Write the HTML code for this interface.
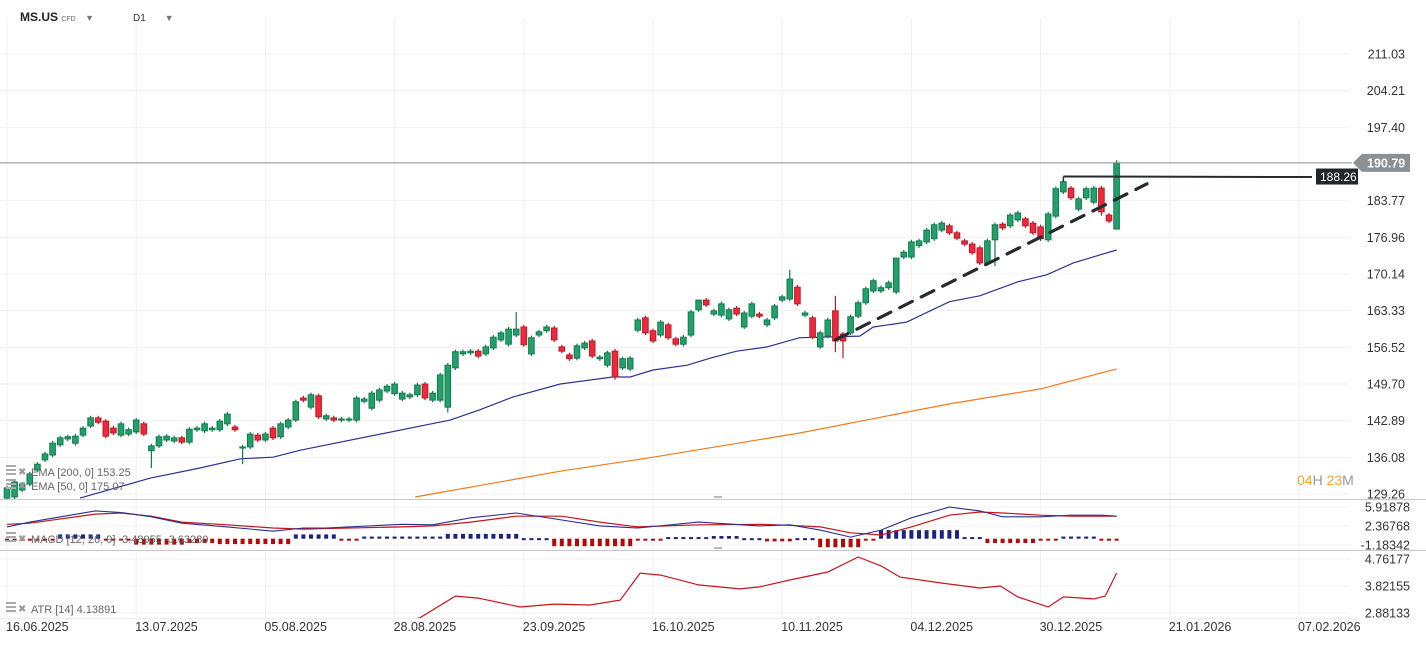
<!DOCTYPE html>
<html><head><meta charset="utf-8"><style>
html,body{margin:0;padding:0;background:#fff;}
body{width:1426px;height:650px;overflow:hidden;font-family:"Liberation Sans",sans-serif;}
svg text{font-family:"Liberation Sans",sans-serif;}
</style></head><body>
<svg id="chart" width="1426" height="650" xmlns="http://www.w3.org/2000/svg"></svg>
<script>
// ===== DATA =====
const opens  = [128.5,128.7,130.0,131.1,133.7,135.6,136.5,138.4,139.5,138.7,140.2,141.9,143.4,142.8,141.5,140.2,140.4,140.8,142.3,137.3,138.2,139.3,139.1,139.7,138.9,141.2,141.0,141.2,141.2,142.3,141.7,137.8,138.0,140.2,139.3,141.5,139.9,141.7,143.0,147.1,145.4,147.5,143.2,143.4,143.0,143.0,143.0,146.5,145.2,146.7,148.4,147.9,146.9,147.3,147.7,149.7,146.7,146.7,145.4,152.7,155.3,155.5,155.8,155.3,156.4,157.9,157.1,158.8,160.3,155.3,158.8,159.6,160.1,156.6,155.1,154.5,156.4,157.7,154.4,153.2,155.8,152.7,152.5,159.7,162.0,159.6,158.8,160.7,158.1,157.1,158.8,163.5,165.3,162.7,162.5,161.8,163.8,160.3,162.3,162.7,160.7,162.0,165.3,165.5,167.7,162.5,162.0,156.6,158.6,163.3,159.0,159.2,162.3,164.8,167.0,167.0,167.6,166.8,173.3,173.3,175.4,176.1,176.7,178.3,179.1,177.8,176.3,175.7,175.0,172.2,176.5,179.4,179.1,180.2,180.4,179.6,178.9,176.5,180.9,185.4,186.1,182.2,184.3,183.5,186.1,181.1,178.5];
const closes = [130.4,131.5,131.1,133.0,134.8,136.7,138.7,139.7,139.9,140.0,141.5,143.4,142.6,140.0,140.6,142.3,141.2,143.0,140.4,138.2,139.9,140.0,139.7,138.9,141.3,141.5,142.3,141.5,142.8,144.1,141.2,138.0,140.4,139.3,140.4,139.7,142.3,143.0,146.4,146.7,147.7,143.6,143.8,143.0,143.2,143.2,147.1,146.9,148.0,148.6,149.3,149.7,148.0,147.7,149.5,147.1,148.0,151.4,153.2,155.7,155.7,155.8,154.9,156.6,158.4,159.2,159.9,159.9,157.0,158.3,159.4,160.3,157.9,155.8,154.4,156.8,157.3,154.9,154.7,155.5,151.0,154.4,154.5,161.6,159.2,157.7,161.2,158.3,157.1,158.4,163.1,165.3,164.4,163.3,164.6,163.5,162.7,162.9,164.6,162.3,161.6,164.2,165.9,169.2,164.6,162.9,158.4,159.2,161.6,157.7,157.7,162.2,164.8,167.4,168.9,167.6,168.5,173.1,174.2,176.1,176.3,178.3,179.3,179.6,177.8,176.8,175.7,174.1,172.2,176.3,179.3,178.7,181.1,181.5,179.1,177.8,176.7,181.3,186.0,187.3,184.3,184.1,186.0,186.1,181.7,180.0,190.8];
const wickHighIdx = [67,103,109,146,91,117];
const wickHighVal = [163.1,170.9,166.1,191.3,165.0,169.8];
const wickLowIdx  = [19,31,58,109,110,80,146,144,130];
const wickLowVal  = [134.1,134.8,144.4,155.6,154.5,150.5,178.4,181.0,171.6];
const ema50Bars = [9.6,18.8,25.4,30.7,35,38.6,58.3,62.2,66.6,72.8,79.7,82,85,89.5,92.5,96,100,104.3,112.2,114,118.4,124,128,133,136.8,140.3,143.8,146];
const ema50Vals = [128.5,132.2,134.1,135.8,136.1,137.4,143.0,144.9,147.3,149.7,151.0,151.0,152.3,153.2,154.5,155.8,156.6,158.3,158.6,160.3,161.2,165.0,166.1,168.7,170.0,172.2,173.7,174.6];
const ema200Bars = [53.7,72.8,84.6,104.3,124,136,146];
const ema200Vals = [128.7,133.5,136.0,140.6,146.0,148.8,152.5];
const macdBars = [0,3,11.6,15,19,23,29,35,39,42,52,56,61,67,73,78,83,91,99,103,107,111,115,119,124,128,131,136,140,144,146];
const macdVals = [2.2,3.1,5.2,4.9,4.1,2.9,2.2,1.4,2.0,2.0,2.7,2.6,3.9,4.8,3.5,2.4,2.0,3.1,2.4,2.6,1.6,0.3,1.6,3.9,5.9,5.2,4.1,4.1,4.4,4.4,4.2];
const signalVals = [2.7,2.9,4.6,4.8,4.2,3.1,2.6,2.0,1.8,1.9,2.2,2.4,3.1,4.2,4.2,3.1,2.2,2.6,2.7,2.5,2.2,1.1,0.7,2.2,4.4,5.0,4.8,4.4,4.2,4.2,4.2];
const histVals = [-0.3,-0.3,-0.3,-0.3,-0.1,-0.1,-0.1,0.8,0.8,0.8,0.8,0.8,0.8,-0.2,-0.2,-0.2,-0.2,-1.1,-1.1,-1.1,-1.1,-1.1,-1.1,-1.1,-0.8,-0.8,-0.8,-0.8,-1.0,-1.0,-1.0,-1.0,-1.0,-1.0,-1.0,-1.0,-1.0,-1.0,0.8,0.8,0.8,0.8,0.8,0.8,-0.3,-0.3,-0.3,0.4,0.4,0.4,0.4,0.4,0.4,0.4,0.4,0.4,0.4,0.4,0.9,0.9,0.9,0.9,0.9,0.9,0.9,0.9,0.9,0.9,0.1,0.1,0.1,0.1,-1.4,-1.4,-1.4,-1.4,-1.4,-1.4,-1.4,-1.4,-1.4,-1.4,-1.4,-0.1,-0.1,-0.1,-0.1,0.3,0.3,0.3,0.3,0.3,0.3,0.5,0.5,0.5,0.5,0.1,0.1,0.1,-0.5,-0.5,-0.5,-0.5,0.1,0.1,0.1,-1.6,-1.6,-1.6,-1.6,-1.6,-1.6,-0.2,-0.2,1.6,1.6,1.6,1.6,1.6,1.6,1.6,1.6,1.6,1.6,1.6,0.3,0.3,0.3,-0.8,-0.8,-0.8,-0.8,-0.8,-0.8,-0.8,-0.3,-0.3,-0.3,0.4,0.4,0.4,0.4,0.4,-0.3,-0.3,-0.3];
const atrBars = [50,54.3,59,62,67.5,72,76.7,80.7,83.3,86,91,96.4,99,103,108,112,115,117.5,122.8,128,130.7,133,137,139,143,144.5,146];
const atrVals = [2.5,2.71,3.47,3.40,3.09,3.19,3.16,3.33,4.27,4.20,3.86,3.72,3.79,4.03,4.31,4.83,4.52,4.13,3.93,3.75,3.82,3.44,3.09,3.44,3.37,3.47,4.27];
const priceTicks = [211.03,204.21,197.40,183.77,176.96,170.14,163.33,156.52,149.70,142.89,136.08,129.26];
const macdTicks = ["5.91878","2.36768","-1.18342"];
const macdTickVals = [5.91878,2.36768,-1.18342];
const atrTicks = ["4.76177","3.82155","2.88133"];
const atrTickVals = [4.76177,3.82155,2.88133];
const dateLabels = ["16.06.2025","13.07.2025","05.08.2025","28.08.2025","23.09.2025","16.10.2025","10.11.2025","04.12.2025","30.12.2025","21.01.2026","07.02.2026"];
const lastPrice = 190.79;
const resistance = 188.26;
const trendStart = [109, 157.9];
const trendEnd = [150, 186.9];

// ===== SCALES =====
const NS="http://www.w3.org/2000/svg";
const svg=document.getElementById('chart');
const X=i=>7+i*7.6;
const Y=p=>54+(211.03-p)*440/81.77;
const YM=v=>538.7-v*5.35;
const YA=v=>559+(4.76177-v)*28.7;
function mk(tag,attrs,parent){const e=document.createElementNS(NS,tag);for(const k in attrs)e.setAttribute(k,attrs[k]);(parent||svg).appendChild(e);return e;}
function txt(x,y,s,attrs,parent){const t=mk('text',Object.assign({x:x,y:y},attrs),parent);t.textContent=s;return t;}

// clip paths
const defs=mk('defs',{});
const c1=mk('clipPath',{id:'cMain'},defs);mk('rect',{x:0,y:18,width:1350,height:481},c1);
const c2=mk('clipPath',{id:'cMacd'},defs);mk('rect',{x:0,y:500,width:1350,height:50},c2);
const c3=mk('clipPath',{id:'cAtr'},defs);mk('rect',{x:0,y:551,width:1350,height:67},c3);

// grid
const grid=mk('g',{});


for(let k=0;k<dateLabels.length;k++){const x=X(k*17);mk('line',{x1:x,y1:18,x2:x,y2:618,stroke:'#f0f0f0','stroke-width':1},grid);}
priceTicks.concat([190.79]).forEach(p=>{if(p!==190.79)mk('line',{x1:0,y1:Y(p),x2:1350,y2:Y(p),stroke:'#f0f0f0'},grid);});
macdTickVals.forEach(v=>mk('line',{x1:0,y1:YM(v),x2:1350,y2:YM(v),stroke:'#f0f0f0'},grid));
atrTickVals.forEach(v=>mk('line',{x1:0,y1:YA(v),x2:1350,y2:YA(v),stroke:'#f0f0f0'},grid));
// panel separators
mk('line',{x1:0,y1:499.5,x2:1426,y2:499.5,stroke:'#c8c8c8'});
mk('line',{x1:0,y1:550.5,x2:1426,y2:550.5,stroke:'#c8c8c8'});
mk('line',{x1:0,y1:618.5,x2:1350,y2:618.5,stroke:'#eee'});
mk('rect',{x:714,y:496,width:8,height:2,fill:'#bbb'});
mk('rect',{x:714,y:547,width:8,height:2,fill:'#bbb'});

// main panel
const main=mk('g',{'clip-path':'url(#cMain)'});


function poly(bars,vals,fy,attrs,parent){const pts=bars.map((b,i)=>X(b).toFixed(1)+','+fy(vals[i]).toFixed(1)).join(' ');return mk('polyline',Object.assign({points:pts,fill:'none'},attrs),parent);}
const e200=poly(ema200Bars,ema200Vals,Y,{stroke:'#f07a1a','stroke-width':1.2},main);


const e50=poly(ema50Bars,ema50Vals,Y,{stroke:'#2d3192','stroke-width':1.2},main);


// last price line
const lp=mk('line',{x1:0,y1:Y(lastPrice),x2:1352,y2:Y(lastPrice),stroke:'#8a8a8a','stroke-width':1});


// candles
for(let i=0;i<opens.length;i++){
  const o=opens[i],c=closes[i],up=c>=o;
  let hi=Math.max(o,c)+0.4,lo=Math.min(o,c)-0.4;
  const hI=wickHighIdx.indexOf(i);if(hI>=0)hi=wickHighVal[hI];
  const lI=wickLowIdx.indexOf(i);if(lI>=0)lo=wickLowVal[lI];
  const g=mk('g',{},main);
  
  
  const x=X(i);
  const col=up?'#147a4e':'#b31c2b',fill=up?'#22a06b':'#f0283c';
  mk('line',{x1:x,y1:Y(hi),x2:x,y2:Y(lo),stroke:col,'stroke-width':1.2},g);
  const top=Y(Math.max(o,c)),bot=Y(Math.min(o,c));
  mk('rect',{x:x-2.8,y:top,width:5.6,height:Math.max(1,bot-top),fill:fill,stroke:col,'stroke-width':1},g);
}
// resistance line
const rl=mk('line',{x1:X(139),y1:Y(resistance),x2:1312,y2:Y(resistance)+0.5,stroke:'#262b30','stroke-width':2});


mk('line',{x1:X(139),y1:Y(resistance),x2:X(139),y2:Y(resistance)+5,stroke:'#262b30','stroke-width':1.5});
// trend line
const tl=mk('line',{x1:X(trendStart[0]),y1:Y(trendStart[1]),x2:X(trendEnd[0]),y2:Y(trendEnd[1]),stroke:'#262b30','stroke-width':3.2,'stroke-dasharray':'14 10','stroke-linecap':'round'});



// MACD panel
const mp=mk('g',{'clip-path':'url(#cMacd)'});


for(let i=0;i<histVals.length;i++){
  const v=histVals[i];const y0=YM(0);const y1=YM(v);
  const r=mk('rect',{x:X(i)-2,y:Math.min(y0,y1),width:4,height:Math.max(2,Math.abs(y1-y0)),fill:v>=0?'#1c2380':'#b00a0a'},mp);
  
  
}
const ml=poly(macdBars,signalVals,YM,{stroke:'#c8141c','stroke-width':1.2},mp);


const mb=poly(macdBars,macdVals,YM,{stroke:'#2a2f8c','stroke-width':1.1},mp);



// ATR panel
const ap=mk('g',{'clip-path':'url(#cAtr)'});


const al=poly(atrBars,atrVals,YA,{stroke:'#c8141c','stroke-width':1.2},ap);



// axes labels
priceTicks.forEach(p=>{const t=txt(1405,Y(p)+4.5,p.toFixed(2),{'text-anchor':'end','font-size':12.5,fill:'#333'});

});
macdTicks.forEach((s,i)=>{const t=txt(1410,YM(macdTickVals[i])+4.5,s,{'text-anchor':'end','font-size':12.5,fill:'#333'});

});
atrTicks.forEach((s,i)=>{const t=txt(1410,YA(atrTickVals[i])+4.5,s,{'text-anchor':'end','font-size':12.5,fill:'#333'});

});
dateLabels.forEach((s,k)=>{const t=txt(X(k*17)-1,631,s,{'font-size':12.5,fill:'#333'});

});

// price tags
const lpy=Y(lastPrice);
const tag1=mk('path',{d:`M1353 ${lpy} L1362 ${lpy-9} L1410 ${lpy-9} L1410 ${lpy+9} L1362 ${lpy+9} Z`,fill:'#8a9094'});


txt(1367,lpy+4.5,lastPrice.toFixed(2),{'font-size':12.5,fill:'#fff','font-weight':'bold'});
const ry=Y(resistance);
const tag2=mk('rect',{x:1316,y:ry-8,width:42,height:16,fill:'#21262b'});


txt(1320,ry+4.5,resistance.toFixed(2),{'font-size':12,fill:'#fff'});

// countdown
const cd=txt(1297,485,'',{'font-size':14});


cd.innerHTML='<tspan fill="#f5a623">04</tspan><tspan fill="#999">H </tspan><tspan fill="#f5a623">23</tspan><tspan fill="#999">M</tspan>';

// legends
function legend(y,s,name){
  const g=mk('g',{});
  
  
  mk('rect',{x:6,y:y-8,width:10,height:2,fill:'#aaa'},g);mk('rect',{x:6,y:y-4,width:10,height:2,fill:'#aaa'},g);mk('rect',{x:6,y:y,width:10,height:2,fill:'#aaa'},g);
  txt(18,y+2,'✖',{'font-size':10,fill:'#999'},g);
  txt(31,y+3,s,{'font-size':11,fill:'#666'},g);
}
legend(473,'EMA [200, 0] 153.25','ema-200-legend');
legend(487,'EMA [50, 0] 175.07','ema-50-legend');
legend(540,'MACD [12, 26, 9] -3.48955  -3.63280','macd-legend');
legend(610,'ATR [14]  4.13891','atr-legend');
</script>
<div style="position:absolute;left:20px;top:10px;font-size:12px;font-weight:bold;color:#222;">MS.US <span style="font-size:7px;color:#666;font-weight:normal">CFD</span> <span style="font-size:9px;color:#777;margin-left:6px">&#9660;</span></div>
<div style="position:absolute;left:133px;top:13px;font-size:10px;color:#333;">D1 <span style="font-size:9px;color:#777;margin-left:16px">&#9660;</span></div>
</body></html>
